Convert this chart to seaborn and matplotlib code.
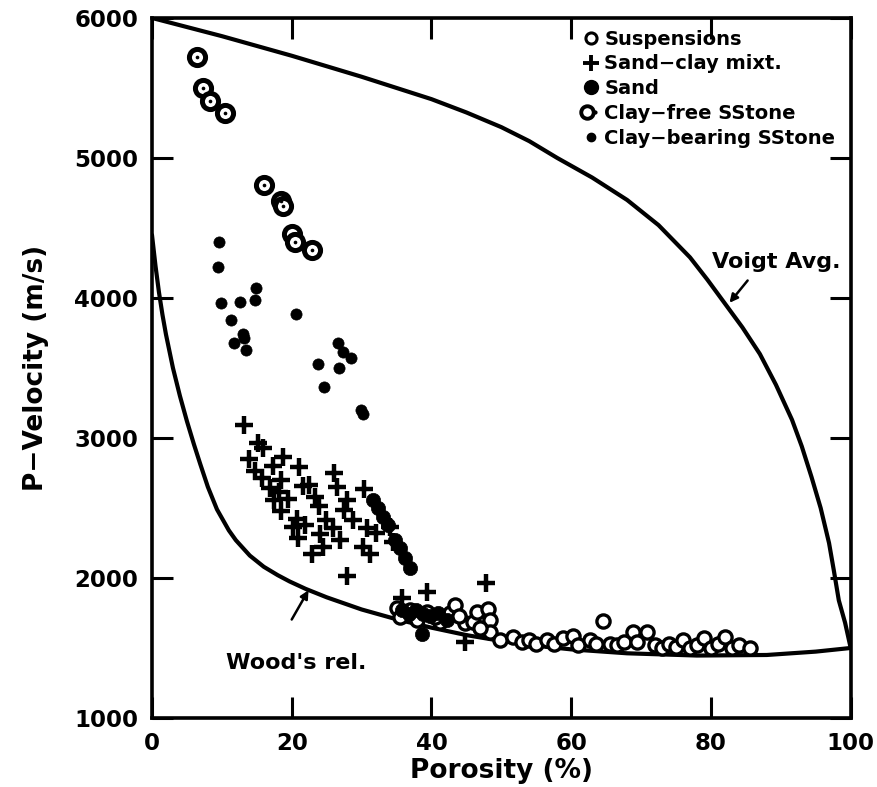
import numpy as np
import pandas as pd
import matplotlib
matplotlib.use("Agg")
import matplotlib.pyplot as plt
import seaborn as sns
from matplotlib.lines import Line2D
from matplotlib.legend_handler import HandlerTuple

# Curves
voigt_por = [0, 5, 10, 15, 20, 25, 30, 35, 40, 45, 50, 54, 58, 63, 68, 72.5, 77,
             79.5, 82, 84.5, 87, 89.3, 91.6, 93, 94.4, 95.7, 96.9, 97.6, 98.3,
             99.2, 100]
voigt_vel = [6000, 5935, 5870, 5800, 5730, 5655, 5580, 5500, 5420, 5325, 5220,
             5120, 5000, 4860, 4700, 4520, 4290, 4130, 3960, 3790, 3600, 3380,
             3130, 2940, 2720, 2500, 2250, 2050, 1840, 1680, 1500]

wood_por = [0, 0.5, 1, 1.5, 2, 3, 4, 5, 6, 6.9, 8, 9.3, 11, 12, 14, 16, 18, 19.7,
            22, 25, 30, 35, 40, 45, 50, 55, 60, 68, 78, 88, 95, 100]
wood_vel = [4450, 4230, 4040, 3880, 3740, 3500, 3300, 3120, 2955, 2815, 2650,
            2490, 2340, 2270, 2160, 2080, 2020, 1975, 1922, 1862, 1775, 1705,
            1645, 1592, 1550, 1516, 1490, 1462, 1446, 1450, 1474, 1500]

# Suspensions (open circles)
susp_por = [35.0, 35.5, 36.9, 39.3, 41.2, 42.6, 43.3, 44.8, 45.9, 46.5, 48.1, 48.4,
            48.4, 47.0, 44.0, 40.5, 38.0, 49.8, 51.6, 53.0, 54.0, 55.0, 56.5, 57.5,
            58.8, 60.2, 61.0, 62.7, 63.5, 64.5, 65.5, 66.5, 67.5, 68.8, 69.4, 70.8,
            72.0, 73.0, 74.0, 75.0, 76.0, 77.0, 78.0, 79.0, 80.0, 81.0, 82.0, 83.0,
            84.0, 85.6]
susp_vel = [1786, 1721, 1771, 1757, 1686, 1750, 1807, 1679, 1686, 1757, 1779, 1700,
            1614, 1640, 1730, 1720, 1700, 1557, 1579, 1540, 1557, 1530, 1557, 1530,
            1571, 1586, 1520, 1557, 1530, 1693, 1530, 1521, 1540, 1614, 1543, 1614,
            1520, 1500, 1530, 1510, 1560, 1500, 1520, 1570, 1500, 1530, 1580, 1500,
            1520, 1500]

# Sand-clay mixtures (plus signs)
mix_por = [13.2, 15.2, 15.9, 13.9, 18.7, 17.3, 21.0, 14.7, 15.7, 18.5, 26.0, 16.9,
           18.2, 21.6, 22.5, 26.5, 30.3, 17.5, 19.5, 23.3, 27.9, 23.9, 18.5, 27.5,
           20.7, 21.9, 24.9, 28.8, 30.8, 20.2, 25.9, 34.0, 24.0, 26.9, 32.0, 20.9,
           30.2, 24.5, 22.9, 31.2, 34.5, 27.9, 35.8, 39.3, 47.8, 44.8]
mix_vel = [3093, 2964, 2929, 2850, 2864, 2800, 2793, 2764, 2714, 2700, 2750, 2643,
           2614, 2657, 2664, 2650, 2636, 2557, 2564, 2579, 2557, 2514, 2479, 2486,
           2421, 2379, 2414, 2414, 2357, 2364, 2357, 2364, 2314, 2271, 2321, 2286,
           2221, 2221, 2171, 2171, 2257, 2014, 1857, 1900, 1964, 1540]

# Sand (large filled circles)
sand_por = [31.6, 32.3, 33.0, 33.8, 34.8, 35.5, 36.2, 36.9, 38.6, 35.8, 36.8,
            37.8, 38.8, 39.8, 41.0, 42.2]
sand_vel = [2557, 2500, 2436, 2379, 2271, 2214, 2143, 2071, 1600, 1770, 1740,
            1770, 1745, 1730, 1750, 1700]

# Clay-free sandstone (bullseye)
cf_por = [6.4, 7.3, 8.3, 10.4, 16.0, 18.4, 18.8, 20.0, 20.4, 22.9]
cf_vel = [5720, 5500, 5410, 5320, 4810, 4690, 4660, 4460, 4400, 4340]

# Clay-bearing sandstone (small filled dots)
cb_por = [9.6, 9.4, 14.9, 14.7, 9.9, 12.6, 11.3, 20.6, 13.0, 13.2, 11.7, 13.4,
          26.6, 27.3, 28.5, 23.7, 26.7, 24.6, 29.9, 30.2]
cb_vel = [4400, 4221, 4071, 3986, 3964, 3971, 3843, 3886, 3743, 3714, 3679, 3629,
          3679, 3614, 3571, 3529, 3500, 3364, 3200, 3170]

sns.set_style("ticks")
plt.rcParams['font.family'] = ['DejaVu Sans']
plt.rcParams['font.weight'] = 'bold'
plt.rcParams['text.color'] = 'black'
plt.rcParams['axes.labelcolor'] = 'black'
plt.rcParams['xtick.color'] = 'black'
plt.rcParams['ytick.color'] = 'black'

fig = plt.figure(figsize=(8.77, 7.87), dpi=100)
ax = fig.add_axes([0.1733, 0.0877, 0.7967, 0.8895])

# Curves
sns.lineplot(x=voigt_por, y=voigt_vel, sort=False, estimator=None, color='black',
             lw=3, ax=ax)
sns.lineplot(x=wood_por, y=wood_vel, sort=False, estimator=None, color='black',
             lw=3, ax=ax)

# Data points
sns.scatterplot(x=susp_por, y=susp_vel, marker='o', s=90, facecolor='white',
                edgecolor='black', linewidth=2.4, ax=ax, zorder=3)
sns.scatterplot(x=mix_por, y=mix_vel, marker='+', s=170, color='black',
                linewidth=3.2, ax=ax, zorder=3)
sns.scatterplot(x=sand_por, y=sand_vel, marker='o', s=105, color='black',
                edgecolor='black', linewidth=0.5, ax=ax, zorder=3)
sns.scatterplot(x=cf_por, y=cf_vel, marker='o', s=135, facecolor='white',
                edgecolor='black', linewidth=3.6, ax=ax, zorder=3)
sns.scatterplot(x=cf_por, y=cf_vel, marker='o', s=7, color='black',
                edgecolor='black', linewidth=0, ax=ax, zorder=4)
sns.scatterplot(x=cb_por, y=cb_vel, marker='o', s=65, color='black',
                edgecolor='black', linewidth=0.5, ax=ax, zorder=3)

ax.set_xlim(0, 100)
ax.set_ylim(1000, 6000)
ax.set_xticks([0, 20, 40, 60, 80, 100])
ax.set_yticks([1000, 2000, 3000, 4000, 5000, 6000])
ax.tick_params(direction='in', length=15, width=2.2, top=True, right=True,
               labelsize=16.5, pad=10, colors='black')
for lab in ax.get_xticklabels() + ax.get_yticklabels():
    lab.set_fontweight('bold')
for sp in ax.spines.values():
    sp.set_linewidth(2.6)
    sp.set_color('black')

ax.set_xlabel('Porosity (%)', fontsize=19, fontweight='bold', labelpad=2)
ax.set_ylabel('P\u2212Velocity (m/s)', fontsize=19, fontweight='bold', labelpad=18)

# Curve labels
ax.annotate('', xy=(82.4, 3950), xytext=(85.5, 4140),
            arrowprops=dict(arrowstyle='-|>', color='black', lw=1.8,
                            mutation_scale=12))
ax.text(89.4, 4257, 'Voigt Avg.', fontsize=16, fontweight='bold',
        ha='center', va='center')
ax.annotate('', xy=(22.6, 1930), xytext=(19.8, 1686),
            arrowprops=dict(arrowstyle='-|>', color='black', lw=1.8,
                            mutation_scale=12))
ax.text(20.7, 1393, "Wood's rel.", fontsize=16, fontweight='bold',
        ha='center', va='center')

# Legend
h_susp = Line2D([], [], ls='none', marker='o', ms=8, mfc='white', mec='black', mew=2.2)
h_mix = Line2D([], [], ls='none', marker='+', ms=12, color='black', mew=2.8)
h_sand = Line2D([], [], ls='none', marker='o', ms=10, color='black')
h_cf_ring = Line2D([], [], ls='none', marker='o', ms=9, mfc='white', mec='black', mew=2.8)
h_cf_dot = Line2D([], [], ls='none', marker='o', ms=2, color='black')
h_cb = Line2D([], [], ls='none', marker='o', ms=6, color='black')
leg = ax.legend([h_susp, h_mix, h_sand, (h_cf_ring, h_cf_dot), h_cb],
                ['Suspensions', 'Sand\u2212clay mixt.', 'Sand', 'Clay\u2212free SStone',
                 'Clay\u2212bearing SStone'],
                handler_map={tuple: HandlerTuple(ndivide=None, pad=0)},
                loc='upper left', bbox_to_anchor=(0.6, 1.0), frameon=False,
                fontsize=14, handlelength=0.8, handletextpad=0.3, labelspacing=0.3,
                borderaxespad=0.2)
for t in leg.get_texts():
    t.set_fontweight('bold')

fig.savefig('out.png', dpi=100)
